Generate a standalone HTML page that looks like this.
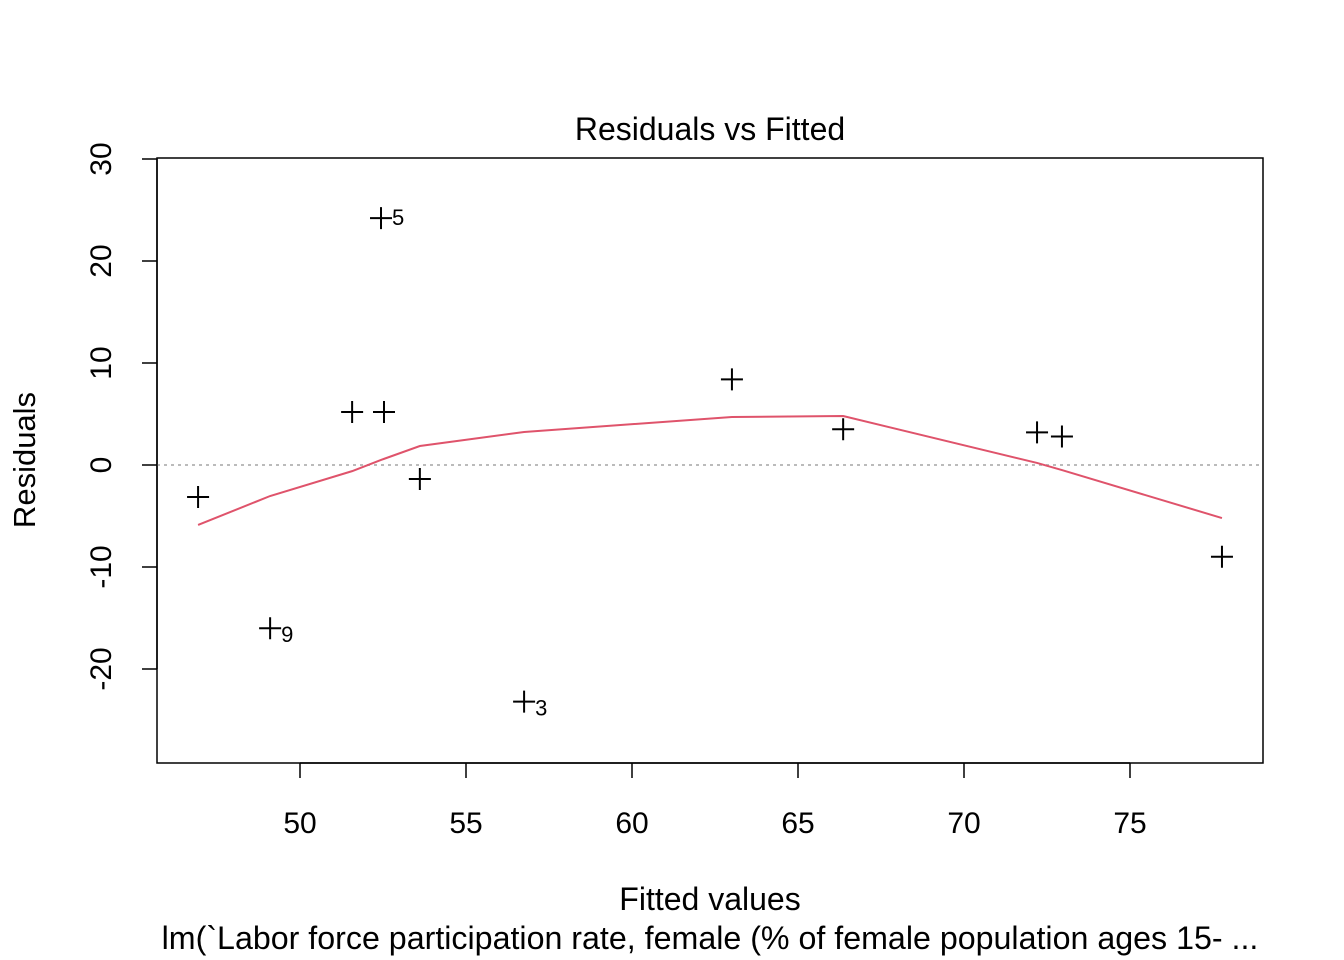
<!DOCTYPE html>
<html><head><meta charset="utf-8"><style>body{margin:0;background:#fff}svg{display:block}text{font-family:"Liberation Sans",sans-serif;fill:#000}</style></head>
<body>
<svg id="c" width="1344" height="960">
<rect x="0" y="0" width="1344" height="960" fill="#fff"/>
<text x="710" y="140" font-size="32" text-anchor="middle">Residuals vs Fitted</text>
<rect x="157" y="158" width="1106" height="605" fill="none" stroke="#000" stroke-width="1.5"/>
<line x1="157" x2="1263" y1="465" y2="465" stroke="#bbb" stroke-width="2" stroke-dasharray="3,4"/>
<g id="xaxis"></g>
<g id="yaxis"></g>
<g id="smooth"></g>
<g id="pts"></g>
<text x="710" y="910" font-size="32" text-anchor="middle">Fitted values</text>
<text x="710" y="949" font-size="32.2" text-anchor="middle">lm(`Labor force participation rate, female (% of female population ages 15- ...</text>
<text transform="translate(35,460) rotate(-90)" font-size="31" text-anchor="middle">Residuals</text>
</svg>
<script>
const fitted=[46.93,49.1,51.57,52.53,52.44,53.61,56.75,63.01,66.36,72.2,72.95,77.77];
const resid=[-3.14,-16.0,5.2,5.2,24.2,-1.37,-23.2,8.4,3.5,3.2,2.8,-9.0];
const pointLabels=["","9","","","5","","3","","","","",""];
const smoothX=[46.93,49.1,51.57,52.44,52.53,53.61,56.75,63.01,66.36,72.2,72.95,77.77];
const smoothY=[-5.88,-3.04,-0.6,0.5,0.6,1.86,3.24,4.7,4.8,0.2,-0.5,-5.2];
const xTicks=[50,55,60,65,70,75];
const yTicks=[-20,-10,0,10,20,30];
const NS="http://www.w3.org/2000/svg";
const sx=v=>300+(v-50)*33.2;
const sy=v=>465-v*10.2;
function mk(t,a,p){const e=document.createElementNS(NS,t);for(const k in a)e.setAttribute(k,a[k]);p.appendChild(e);return e;}
const xa=document.getElementById('xaxis');
mk('line',{x1:sx(50),x2:sx(75),y1:763,y2:763,stroke:'#000','stroke-width':1.5},xa);
xTicks.forEach(t=>{const l=mk('line',{x1:sx(t),x2:sx(t),y1:763,y2:778,stroke:'#000','stroke-width':1.5},xa);


const tx=mk('text',{x:sx(t),y:833,'font-size':30,'text-anchor':'middle'},xa);tx.textContent=t;

});
const ya=document.getElementById('yaxis');
mk('line',{x1:157,x2:157,y1:sy(-20),y2:sy(30),stroke:'#000','stroke-width':1.5},ya);
yTicks.forEach(t=>{const l=mk('line',{x1:142,x2:157,y1:sy(t),y2:sy(t),stroke:'#000','stroke-width':1.5},ya);


const tx=mk('text',{transform:`translate(111,${sy(t)}) rotate(-90)`,'font-size':30,'text-anchor':'middle'},ya);tx.textContent=t;

});
const sm=document.getElementById('smooth');
const pl=mk('polyline',{points:smoothX.map((x,i)=>sx(x)+','+sy(smoothY[i])).join(' '),fill:'none',stroke:'#df536b','stroke-width':2},sm);


const pg=document.getElementById('pts');
fitted.forEach((f,i)=>{const x=sx(f),y=sy(resid[i]);
const p=mk('path',{d:`M${x-11},${y}H${x+11}M${x},${y-11}V${y+11}`,stroke:'#000','stroke-width':2},pg);


if(pointLabels[i]){const t=mk('text',{x:x+11,y:y+14,'font-size':22},pg);t.textContent=pointLabels[i];
if(resid[i]>0)t.setAttribute('y',y+7);

}});
</script>
</body></html>
